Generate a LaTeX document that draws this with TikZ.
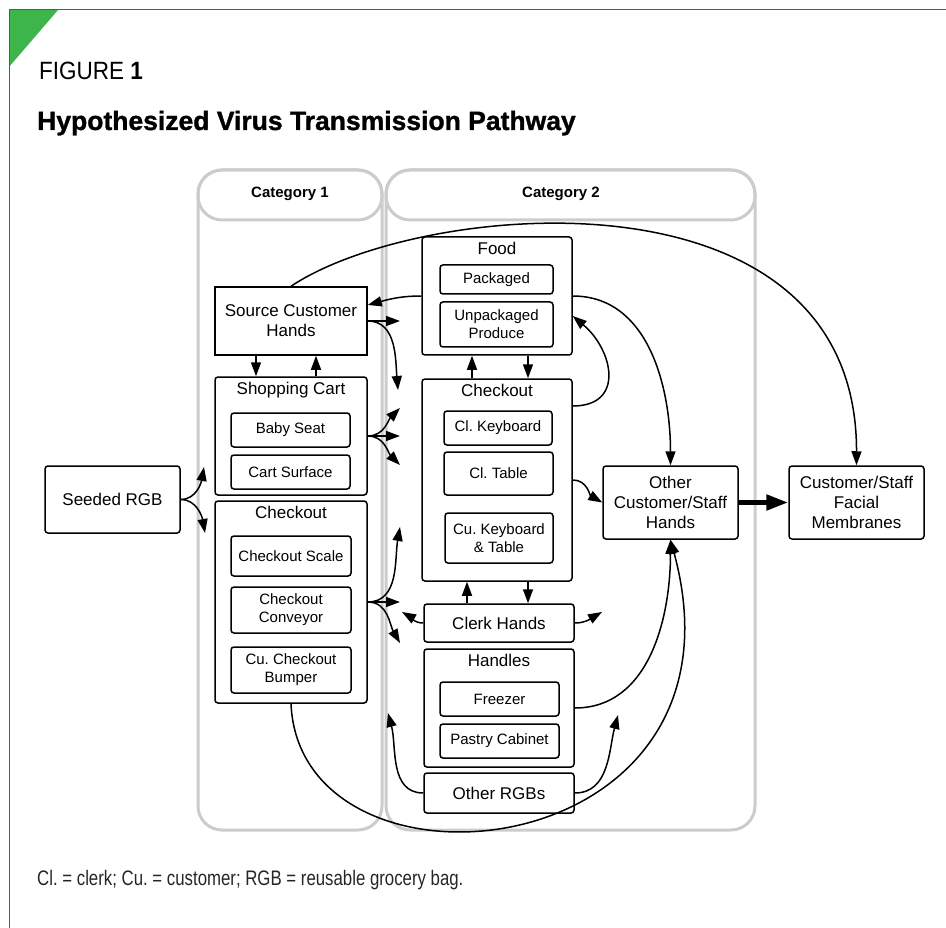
\documentclass[tikz,border=0pt]{standalone}
\usepackage{fontspec}
\setmainfont{Liberation Sans}
\newfontfamily\condfont[FakeStretch=0.8]{Liberation Sans}
\newfontfamily\figfont[FakeStretch=0.9]{Liberation Sans}
\newfontfamily\heavyfont[FakeBold=1.2]{Liberation Sans}
\usetikzlibrary{arrows.meta}
\definecolor{figgreen}{HTML}{3DB54A}
\definecolor{lanegray}{HTML}{CCCCCC}
\frenchspacing
\begin{document}
\begin{tikzpicture}[x=1pt,y=-1pt,
    lane/.style={draw=lanegray, line width=3pt, rounded corners=24pt},
    box/.style={draw, line width=1.5pt, rounded corners=3pt, align=center, inner sep=0pt, font=\fontsize{17}{20}\selectfont},
    inbox/.style={box, font=\fontsize{15}{18}\selectfont},
    boxtitle/.style={anchor=base, inner sep=0pt, font=\fontsize{17}{20}\selectfont},
    arr/.style={line width=1.5pt, -{Triangle[length=14pt,width=10pt]}}]
  \useasboundingbox (0,0) rectangle (946,928);
  % frame and heading
  \fill[figgreen] (9,10) -- (58,10) -- (9,67) -- cycle;
  \draw[gray!70!black, line width=1pt] (9,928) -- (9,10) -- (946,10);
  \node[anchor=base west, inner sep=0pt, font=\figfont\fontsize{25}{28}\selectfont] (fig) at (39,80) {FIGURE \textbf{1}};
  \node[anchor=base west, inner sep=0pt, font=\heavyfont\bfseries\fontsize{26.5}{30}\selectfont] (title) at (37,130) {Hypothesized Virus Transmission Pathway};
  \node[anchor=base west, inner sep=0pt, font=\condfont\fontsize{21}{24}\selectfont, text=black!85] (note) at (37,885) {Cl. = clerk; Cu. = customer; RGB = reusable grocery bag.};
  % lanes
  \draw[lane] (198,170) rectangle (382,830);
  \draw[lane] (198,170) rectangle (382,220);
  \draw[lane] (386,170) rectangle (755,830);
  \draw[lane] (386,170) rectangle (755,220);
  \node[font=\bfseries\fontsize{15}{18}\selectfont] (cat1) at (290,194) {Category 1};
  \node[font=\bfseries\fontsize{15}{18}\selectfont] (cat2) at (561,194) {Category 2};
  % boxes
  \node[box, minimum width=135, minimum height=67] (seed) at (112.5,499.5) {Seeded RGB};
  \node[box, sharp corners, minimum width=152, minimum height=68] (src) at (291,321) {Source Customer\\Hands};
  \node[box, minimum width=152, minimum height=118] (cart) at (291,436) {};
  \node[boxtitle] (cartT) at ([yshift=-18pt]cart.north) {Shopping Cart};
  \node[inbox, minimum width=119, minimum height=34] (baby) at (290.5,430) {Baby Seat};
  \node[inbox, minimum width=119, minimum height=34] (surf) at (290.5,472) {Cart Surface};
  \node[box, minimum width=152, minimum height=202] (ckL) at (291,602) {};
  \node[boxtitle] (ckLT) at ([yshift=-18pt]ckL.north) {Checkout};
  \node[inbox, minimum width=120, minimum height=40] (scale) at (291,556) {Checkout Scale};
  \node[inbox, minimum width=120, minimum height=46] (conv) at (291,610) {Checkout\\Conveyor};
  \node[inbox, minimum width=120, minimum height=46] (bump) at (291,670) {Cu. Checkout\\Bumper};
  \node[box, minimum width=150, minimum height=118] (food) at (497,296) {};
  \node[boxtitle] (foodT) at ([yshift=-18pt]food.north) {Food};
  \node[inbox, minimum width=113, minimum height=29] (pack) at (496.5,279.5) {Packaged};
  \node[inbox, minimum width=113, minimum height=45] (unpk) at (496.5,324.5) {Unpackaged\\Produce};
  \node[box, minimum width=150, minimum height=202] (ckR) at (497,480) {};
  \node[boxtitle] (ckRT) at ([yshift=-18pt]ckR.north) {Checkout};
  \node[inbox, minimum width=108, minimum height=34] (ckey) at (498,428) {Cl. Keyboard};
  \node[inbox, minimum width=109, minimum height=43] (ctab) at (498.5,473.5) {Cl. Table};
  \node[inbox, minimum width=108, minimum height=50] (cukey) at (499,538) {Cu. Keyboard\\\& Table};
  \node[box, minimum width=150, minimum height=38] (clerk) at (499,623) {Clerk Hands};
  \node[box, minimum width=150, minimum height=118] (hand) at (499,708) {};
  \node[boxtitle] (handT) at ([yshift=-18pt]hand.north) {Handles};
  \node[inbox, minimum width=119, minimum height=34] (frz) at (499.5,699) {Freezer};
  \node[inbox, minimum width=119, minimum height=34] (pastry) at (499.5,741) {Pastry Cabinet};
  \node[box, minimum width=150, minimum height=40] (orgb) at (499,793) {Other RGBs};
  \node[box, minimum width=135, minimum height=73] (other) at (670.5,502.5) {Other\\Customer/Staff\\Hands};
  \node[box, minimum width=135, minimum height=73] (face) at (856.5,502.5) {Customer/Staff\\Facial\\Membranes};
  % free ends
  \coordinate (seedUp) at (204,467);
  \coordinate (seedDn) at (205,533);
  \coordinate (srcR) at (400,321);
  \coordinate (srcDn) at (398,390);
  \coordinate (cartUp) at (400,408);
  \coordinate (cartR) at (400,436);
  \coordinate (cartDn) at (400,465);
  \coordinate (ckLup) at (400,527);
  \coordinate (ckLmid) at (400,602);
  \coordinate (ckLdn) at (400,643);
  \coordinate (clkL) at (402,612);
  \coordinate (clkR) at (602,612);
  \coordinate (rgbL) at (388,713);
  \coordinate (rgbR) at (618,715);
  % connectors
  \draw[arr] (seed.east) to[out=0,in=-100] (seedUp);
  \draw[arr] (seed.east) to[out=0,in=100] (seedDn);
  \draw[arr] (src.east) -- (srcR);
  \draw[arr] (src.east) to[out=0,in=95] (srcDn);
  \draw[arr] (food.west) to[out=180,in=15] ([yshift=16pt]src.east);
  \draw[arr] ([xshift=-35pt]src.south) -- ([xshift=-35pt]cart.north);
  \draw[arr] ([xshift=25pt]cart.north) -- ([xshift=25pt]src.south);
  \draw[arr] (src.north) .. controls (420,200) and (857,160) .. (face.north);
  \draw[arr] (cart.east) to[out=0,in=-135] (cartUp);
  \draw[arr] (cart.east) -- (cartR);
  \draw[arr] (cart.east) to[out=0,in=135] (cartDn);
  \draw[arr] (ckL.east) to[out=0,in=-100] (ckLup);
  \draw[arr] (ckL.east) -- (ckLmid);
  \draw[arr] (ckL.east) to[out=0,in=120] (ckLdn);
  \draw[arr] (ckL.south) .. controls (300,912) and (760,870) .. (other.south);
  \draw[arr] ([xshift=-25pt]ckR.north) -- ([xshift=-25pt]food.south);
  \draw[arr] ([xshift=31pt]food.south) -- ([xshift=31pt]ckR.north);
  \draw[arr] ([yshift=74pt]ckR.east) to[out=0,in=-40,looseness=1.5] ([yshift=-20pt]food.east);
  \draw[arr] (food.east) to[out=0,in=90] (other.north);
  \draw[arr] (ckR.east) to[out=0,in=150] (other.west);
  \draw[arr] ([xshift=-32pt]clerk.north) -- ([xshift=-32pt]clerk.north |- ckR.south);
  \draw[arr] ([xshift=29pt]clerk.north |- ckR.south) -- ([xshift=29pt]clerk.north);
  \draw[arr] (clerk.west) to[out=180,in=-30] (clkL);
  \draw[arr] (clerk.east) to[out=0,in=-150] (clkR);
  \draw[arr] (hand.east) to[out=0,in=-90] (other.south);
  \draw[arr] (orgb.west) to[out=180,in=-75] (rgbL);
  \draw[arr] (orgb.east) to[out=0,in=-105] (rgbR);
  \draw[line width=5pt, -{Triangle[length=22pt,width=15pt]}] (other.east) -- (face.west);
\end{tikzpicture}
\end{document}
